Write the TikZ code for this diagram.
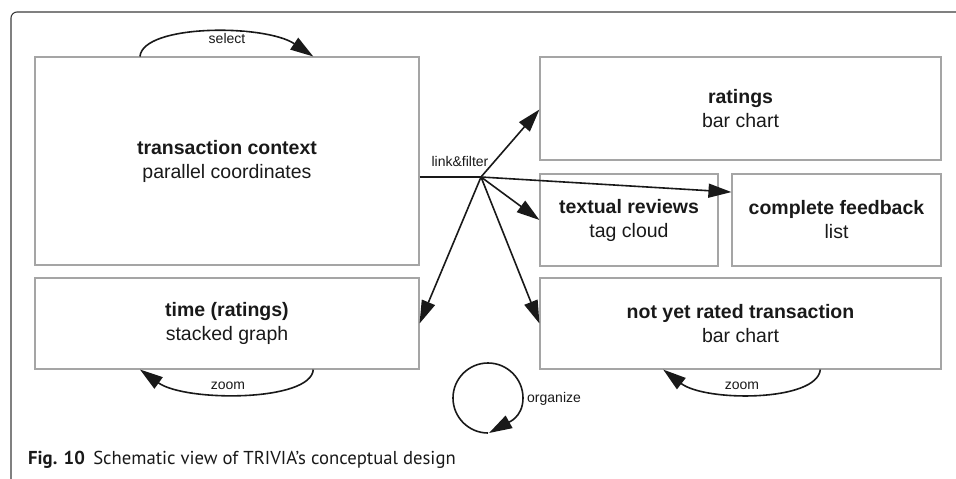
\documentclass[tikz,border=0pt]{standalone}
\usepackage{fontspec}
\setmainfont{Liberation Sans}
\newfontfamily\capfont{PT Sans}
\usetikzlibrary{arrows.meta,calc}
\definecolor{boxgray}{RGB}{165,165,165}
\definecolor{ink}{RGB}{25,25,25}
\definecolor{frame}{RGB}{60,60,60}
\begin{document}
\begin{tikzpicture}[x=1pt,y=-1pt,
  box/.style={draw=boxgray,line width=1.1pt,inner sep=0pt,align=center,text=ink,
              font=\fontsize{19.5}{24}\selectfont},
  arr/.style={draw=ink,line width=1.6pt,-{Triangle[length=23pt,width=14pt]}},
  lbl/.style={inner sep=0pt,text=ink,font=\fontsize{14}{16}\selectfont}]
\useasboundingbox (0,0) rectangle (956,479);
% frame
\draw[frame,line width=1.1pt,rounded corners=6pt] (11,479) -- (11,12) -- (956,12);
% boxes
\node[box,minimum width=384pt,minimum height=208pt] (tc) at (227,161)
  {\textbf{transaction context}\\parallel coordinates};
\node[box,minimum width=384pt,minimum height=91pt] (tm) at (227,323.5)
  {\textbf{time (ratings)}\\stacked graph};
\node[box,minimum width=401pt,minimum height=103pt] (rt) at (740.5,108.5)
  {\textbf{ratings}\\bar chart};
\node[box,minimum width=178pt,minimum height=92pt] (tr) at (629,220)
  {\textbf{textual reviews}\\tag cloud};
\node[box,minimum width=209pt,minimum height=92pt] (cf) at (836.5,220)
  {\textbf{complete feedback}\\list};
\node[box,minimum width=401pt,minimum height=91pt] (ny) at (740.5,323.5)
  {\textbf{not yet rated transaction}\\bar chart};
% hub
\coordinate (hub) at (481,177);
\draw[ink,line width=1.6pt] (tc.east |- hub) -- (hub);
\node[lbl] (lf) at (460,161) {link\&filter};
\draw[arr] (hub) -- ([yshift=-1pt]rt.west);
\draw[arr] (hub) -- ($(cf.north west)!0.2!(cf.south west)$);
\draw[arr] (hub) -- (tr.west);
\draw[arr] (hub) -- (tm.east);
\draw[arr] (hub) -- (ny.west);
% select
\draw[arr] ($(tc.north west)!0.274!(tc.north east)$) .. controls (143,24) and (265,24) ..
  ($(tc.north west)!0.724!(tc.north east)$);
\node[lbl,fill=white,inner sep=1pt] (sel) at (227,38) {select};
% zoom left
\draw[arr] ($(tm.south west)!0.724!(tm.south east)$) .. controls (311,402) and (185,402) ..
  ($(tm.south west)!0.274!(tm.south east)$);
\node[lbl] (z1) at (228,386) {zoom};
% zoom right
\draw[arr] ($(ny.south west)!0.6985!(ny.south east)$) .. controls (817,402) and (705,402) ..
  ($(ny.south west)!0.3077!(ny.south east)$);
\node[lbl] (z2) at (742,386) {zoom};
% organize
\coordinate (oc) at (488,398);
\draw[arr] ([shift={(0,35)}]oc)
  .. controls +(-19.3,0) and +(0,19.3) .. ([shift={(-35,0)}]oc)
  .. controls +(0,-19.3) and +(-19.3,0) .. ([shift={(0,-35)}]oc)
  .. controls +(19.3,0) and +(0,-19.3) .. ([shift={(35,0)}]oc)
  .. controls +(0,20) and +(18,-10) .. ([shift={(1,35)}]oc);
\node[lbl,anchor=west] (org) at (527,399) {organize};
% caption
\node[anchor=west,inner sep=0pt,text=ink,font=\capfont\fontsize{18.7}{20}\selectfont] (cap) at (28,460)
  {\textbf{Fig. 10}\hspace{0.45em}Schematic view of TRIVIA’s conceptual design};
\end{tikzpicture}
\end{document}
